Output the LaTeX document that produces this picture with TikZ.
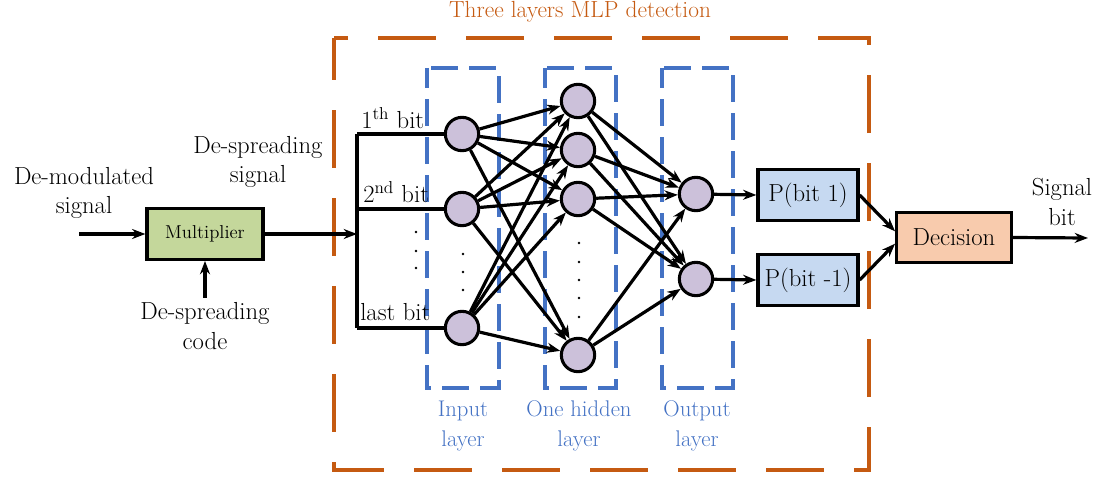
\documentclass[tikz,border=0pt]{standalone}
\usepackage{fontspec}
\usetikzlibrary{arrows.meta}
\definecolor{mlporange}{HTML}{C55A11}
\definecolor{layerblue}{HTML}{4472C4}
\definecolor{neuroncol}{HTML}{CCC1DA}
\definecolor{mulgreen}{HTML}{C4D79B}
\definecolor{probblue}{HTML}{C6D9F1}
\definecolor{decorange}{HTML}{F8CBAD}
\begin{document}
\begin{tikzpicture}[x=0.75pt,y=-0.75pt,
  font=\rmfamily\fontsize{18.5}{22}\selectfont,
  conn/.style={line width=2.4pt,-{Stealth[length=10pt,width=7.5pt]}},
  wire/.style={line width=2.4pt},
  neuron/.style={circle,draw,line width=2.3pt,fill=neuroncol,minimum size=25pt,inner sep=0pt},
  block/.style={draw,line width=2.4pt,inner sep=0pt},
  layerbox/.style={draw=layerblue,line width=2.3pt,dash pattern=on 20pt off 8.5pt,dash phase=5pt},
  layerlabel/.style={text=layerblue,align=center,font=\rmfamily\fontsize{17}{22}\selectfont},
  lbl/.style={align=center},
  bitlbl/.style={anchor=base west,inner sep=0pt}
]
\useasboundingbox (0,0) rectangle (1110,478);

% MLP detection frame and title
\draw[mlporange,line width=2.4pt,dash pattern=on 43.5pt off 22.5pt,dash phase=12pt]
  (334,38) rectangle (869,470);
\node[text=mlporange,font=\rmfamily\fontsize{17.5}{20}\selectfont] (title) at (580,12) {Three layers MLP detection};

% layer frames
\draw[layerbox] (427,68) rectangle (499,388);
\draw[layerbox] (545,68) rectangle (616,388);
\draw[layerbox] (662,68) rectangle (733,388);
\node[layerlabel] (linput) at (463,426) {Input\\layer};
\node[layerlabel] (lhidden) at (579,426) {One hidden\\layer};
\node[layerlabel] (loutput) at (697,426) {Output\\layer};

% front end
\node[block,fill=mulgreen,minimum width=87pt,minimum height=38pt,font=\rmfamily\fontsize{14}{17}\selectfont] (mul) at (205,234) {Multiplier};
\node[lbl] (demod) at (84,193) {De-modulated\\signal};
\node[lbl] (dsig) at (258,162) {De-spreading\\signal};
\node[lbl] (dcode) at (205,326) {De-spreading\\code};
\coordinate (src) at (79,234);
\coordinate (split) at (357,234);
\coordinate (btop) at (357,134);
\coordinate (bbot) at (357,328);

% neurons
\node[neuron] (i1) at (462,134) {};
\node[neuron] (i2) at (462,209) {};
\node[neuron] (i3) at (462,328) {};
\node[neuron] (h1) at (578,101) {};
\node[neuron] (h2) at (578,150) {};
\node[neuron] (h3) at (578,199) {};
\node[neuron] (h4) at (578,355) {};
\node[neuron] (o1) at (696,194) {};
\node[neuron] (o2) at (696,279) {};

% bit labels
\node[bitlbl] (b1) at (361,128) {1\textsuperscript{th} bit};
\node[bitlbl] (b2) at (363,202) {2\textsuperscript{nd} bit};
\node[bitlbl] (b3) at (360,320) {last bit};

% ellipsis dots
\foreach \y in {232,251,268} \fill (416,\y) circle (1.1pt);
\foreach \y in {254,272,290} \fill (463,\y) circle (1.1pt);
\foreach \y in {243,262,280,298,317} \fill (579,\y) circle (1.1pt);

% back end
\node[block,fill=probblue,minimum width=75pt,minimum height=38pt] (p1) at (808,195) {P(bit 1)};
\node[block,fill=probblue,minimum width=75pt,minimum height=38pt] (p2) at (808,280) {P(bit -1)};
\node[block,fill=decorange,minimum width=86pt,minimum height=38pt] (dec) at (954,237.5) {Decision};
\node[lbl] (sbit) at (1062,202) {Signal\\bit};
\coordinate (sink) at (1088,238);

% connectors
\draw[conn] (src) -- (mul.west);
\draw[conn] (dcode.north) -- (mul.south);
\draw[conn] (mul.east) -- (split);
\draw[wire] (btop) -- (bbot);
\draw[wire] (btop) -- (i1.west);
\draw[wire] (split |- i2.west) -- (i2.west);
\draw[wire] (bbot) -- (i3.west);

\foreach \a in {i1,i2,i3}
  \foreach \b in {h1,h2,h3,h4}
    \draw[conn] (\a) -- (\b);
\foreach \a in {h1,h2,h3,h4}
  \foreach \b in {o1,o2}
    \draw[conn] (\a) -- (\b);

\draw[conn] (o1) -- (p1.west);
\draw[conn] (o2) -- (p2.west);
\draw[conn] (p1.east) -- (dec.174);
\draw[conn] (p2.east) -- (dec.186);
\draw[conn] (dec.east) -- (sink);
\end{tikzpicture}
\end{document}
